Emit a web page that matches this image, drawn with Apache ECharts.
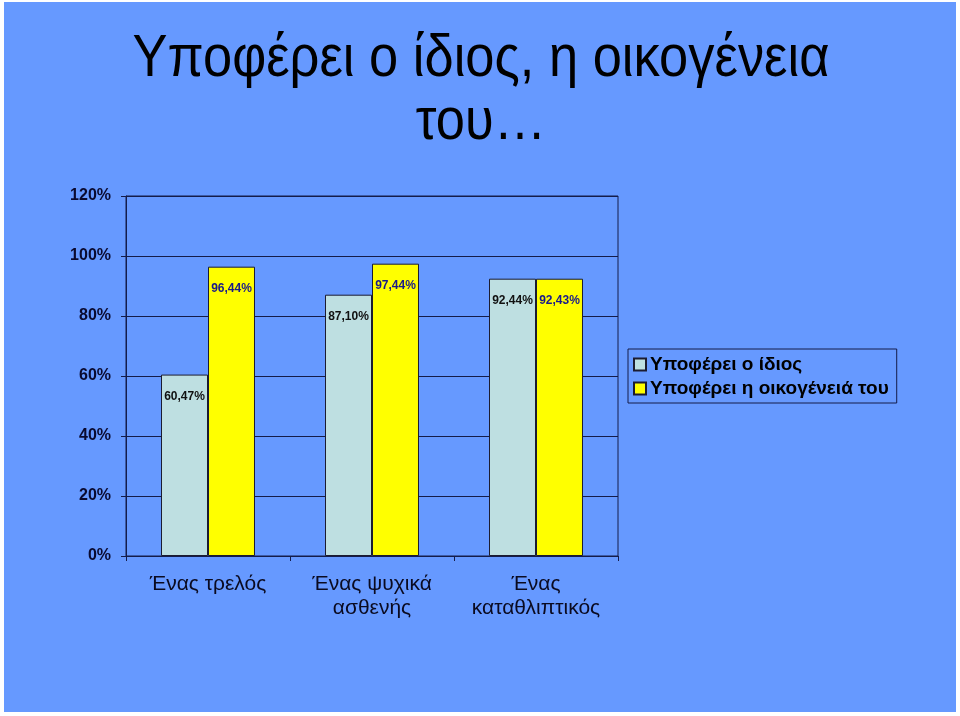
<!DOCTYPE html>
<html>
<head>
<meta charset="utf-8">
<script src="https://cdn.jsdelivr.net/npm/echarts@6/dist/echarts.min.js"></script>
<style>
html,body{margin:0;padding:0;background:#fff;}
#bg{position:absolute;left:4px;top:2px;width:952px;height:710px;background:#6699FF;}
#c{position:absolute;left:0;top:0;width:960px;height:716px;}
</style>
</head>
<body>
<div id="bg"></div>
<div id="c"></div>
<script>
var titleLines = ['Υποφέρει ο ίδιος, η οικογένεια', 'του…'];
var categories = ['Ένας τρελός', 'Ένας ψυχικά\nασθενής', 'Ένας\nκαταθλιπτικός'];
var seriesNames = ['Υποφέρει ο ίδιος', 'Υποφέρει η οικογένειά του'];
var selfValues = [60.47, 87.10, 92.44];
var familyValues = [96.44, 97.44, 92.43];
var yMin = 0, yMax = 120, yStep = 20;

var dark = '#141c4a';
var FF = '"Liberation Sans", Arial, sans-serif';
function fmt(p){ return p.value.toFixed(2).replace('.', ',') + '%'; }

// condensed look for the title: horizontal squeeze of a regular sans
var titleSize = 60;
var cv = document.createElement('canvas').getContext('2d');
cv.font = titleSize + 'px ' + FF;
var w1 = cv.measureText(titleLines[0]).width;
var sx = 697 / w1;

var chart = echarts.init(document.getElementById('c'));
chart.setOption({
  backgroundColor: 'transparent',
  animation: false,
  graphic: [
    { type: 'text', x: 481, y: 59, scaleX: sx,
      style: { text: titleLines[0], x: 0, y: 0, align: 'center', verticalAlign: 'middle',
        font: titleSize + 'px ' + FF, fill: '#000' } },
    { type: 'text', x: 481, y: 122, scaleX: sx,
      style: { text: titleLines[1], x: 0, y: 0, align: 'center', verticalAlign: 'middle',
        font: titleSize + 'px ' + FF, fill: '#000' } }
  ],
  legend: {
    orient: 'vertical',
    left: 628,
    top: 349,
    itemWidth: 12,
    itemHeight: 12,
    itemGap: 5,
    padding: [6, 8, 5, 5],
    borderColor: dark,
    borderWidth: 1,
    icon: 'rect',
    textStyle: { fontFamily: FF, fontSize: 19, fontWeight: 'bold', color: '#000', padding: [0,0,0,-1] },
    data: seriesNames
  },
  grid: {
    left: 126, right: 342, top: 196, bottom: 160,
    show: true, borderColor: dark, borderWidth: 1, backgroundColor: 'transparent'
  },
  xAxis: {
    type: 'category',
    data: categories,
    axisLine: { lineStyle: { color: dark, width: 1 } },
    axisTick: { show: true, length: 5, lineStyle: { color: dark } },
    axisLabel: {
      interval: 0,
      fontFamily: FF,
      fontSize: 21, lineHeight: 24, color: '#0a0a20', margin: 16
    }
  },
  yAxis: {
    type: 'value',
    min: yMin, max: yMax, interval: yStep,
    axisLine: { show: true, lineStyle: { color: dark, width: 1 } },
    axisTick: { show: true, length: 5, lineStyle: { color: dark } },
    splitLine: { show: true, lineStyle: { color: dark, width: 1 } },
    axisLabel: {
      formatter: '{value}%',
      fontFamily: FF,
      fontWeight: 'bold', fontSize: 16, color: '#0a0a30', margin: 15
    }
  },
  series: [
    {
      name: seriesNames[0], type: 'bar', data: selfValues,
      barGap: '0%', barCategoryGap: '42.7%',
      itemStyle: { color: '#BEDFE1', borderColor: '#1c1c30', borderWidth: 1 },
      label: {
        show: true, position: 'insideTop', distance: 16, formatter: fmt,
        fontFamily: FF, fontWeight: 'bold', fontSize: 12, color: '#111'
      }
    },
    {
      name: seriesNames[1], type: 'bar', data: familyValues,
      itemStyle: { color: '#FFFF00', borderColor: '#1c1c30', borderWidth: 1 },
      label: {
        show: true, position: 'insideTop', distance: 16, formatter: fmt,
        fontFamily: FF, fontWeight: 'bold', fontSize: 12, color: '#1a1a8a'
      }
    }
  ]
});
</script>
</body>
</html>
